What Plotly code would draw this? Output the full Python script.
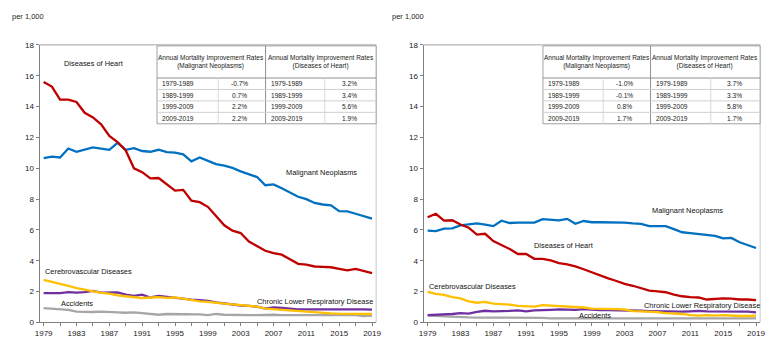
import plotly.graph_objects as go

years = list(range(1979, 2020))

# Left panel
heart_l = [15.6, 15.3, 14.45, 14.45, 14.3, 13.6, 13.3, 12.85, 12.1, 11.7, 11.15, 10.0, 9.75, 9.35, 9.37, 8.95, 8.55, 8.6, 7.9, 7.8, 7.5,
           6.9, 6.3, 5.95, 5.8, 5.25, 4.95, 4.65, 4.5, 4.4, 4.1, 3.8, 3.75, 3.63, 3.6, 3.58, 3.48, 3.38, 3.47, 3.35, 3.2]
cancer_l = [10.65, 10.75, 10.7, 11.28, 11.07, 11.2, 11.35, 11.28, 11.2, 11.65, 11.2, 11.3, 11.12, 11.07, 11.2, 11.05, 11.02, 10.9, 10.45, 10.7, 10.5,
            10.27, 10.17, 10.02, 9.8, 9.6, 9.43, 8.9, 8.95, 8.7, 8.45, 8.15, 8.0, 7.75, 7.65, 7.6, 7.22, 7.2, 7.05, 6.87, 6.73]
cvd_l = [2.76, 2.65, 2.5, 2.38, 2.23, 2.13, 2.02, 1.92, 1.87, 1.75, 1.7, 1.62, 1.58, 1.62, 1.64, 1.6, 1.62, 1.54, 1.45, 1.37, 1.33,
         1.26, 1.22, 1.18, 1.12, 1.07, 1.03, 0.9, 0.86, 0.82, 0.78, 0.74, 0.7, 0.63, 0.61, 0.59, 0.57, 0.57, 0.55, 0.53, 0.55]
clrd_l = [1.9, 1.9, 1.9, 1.97, 1.93, 1.97, 2.05, 1.93, 1.92, 1.95, 1.8, 1.72, 1.8, 1.62, 1.72, 1.65, 1.6, 1.55, 1.48, 1.45, 1.4,
          1.3, 1.22, 1.15, 1.1, 1.07, 1.02, 0.9, 0.97, 0.95, 0.9, 0.85, 0.85, 0.87, 0.85, 0.85, 0.85, 0.87, 0.88, 0.85, 0.83]
acc_l = [0.93, 0.9, 0.87, 0.82, 0.7, 0.68, 0.68, 0.7, 0.66, 0.65, 0.63, 0.66, 0.6, 0.55, 0.5, 0.55, 0.55, 0.55, 0.55, 0.52, 0.48,
         0.55, 0.5, 0.48, 0.5, 0.48, 0.48, 0.5, 0.5, 0.48, 0.48, 0.48, 0.5, 0.48, 0.47, 0.48, 0.47, 0.47, 0.48, 0.42, 0.45]

# Right panel
heart_r = [6.82, 7.05, 6.6, 6.63, 6.35, 6.15, 5.7, 5.75, 5.28, 5.03, 4.76, 4.44, 4.44, 4.13, 4.13, 4.02, 3.85, 3.77, 3.64, 3.45, 3.24,
           3.03, 2.86, 2.69, 2.5, 2.38, 2.23, 2.06, 2.02, 1.96, 1.81, 1.7, 1.64, 1.62, 1.49, 1.52, 1.56, 1.54, 1.49, 1.49, 1.45]
cancer_r = [5.95, 5.92, 6.08, 6.1, 6.3, 6.35, 6.42, 6.35, 6.25, 6.6, 6.45, 6.48, 6.5, 6.48, 6.7, 6.65, 6.62, 6.72, 6.4, 6.58, 6.5,
            6.5, 6.5, 6.52, 6.48, 6.42, 6.4, 6.25, 6.27, 6.25, 6.05, 5.85, 5.8, 5.75, 5.7, 5.62, 5.45, 5.48, 5.2, 5.0, 4.83]
cvd_r = [1.98, 1.85, 1.79, 1.64, 1.56, 1.37, 1.28, 1.33, 1.22, 1.18, 1.16, 1.07, 1.07, 1.03, 1.12, 1.09, 1.07, 1.05, 1.01, 0.97, 0.9,
         0.9, 0.86, 0.86, 0.84, 0.74, 0.72, 0.7, 0.67, 0.61, 0.59, 0.55, 0.48, 0.44, 0.48, 0.44, 0.48, 0.44, 0.42, 0.42, 0.44]
clrd_r = [0.48, 0.5, 0.5, 0.55, 0.61, 0.58, 0.69, 0.76, 0.72, 0.72, 0.75, 0.78, 0.72, 0.78, 0.78, 0.82, 0.85, 0.85, 0.82, 0.87, 0.82,
          0.8, 0.8, 0.8, 0.8, 0.78, 0.76, 0.74, 0.72, 0.74, 0.72, 0.7, 0.72, 0.75, 0.72, 0.72, 0.74, 0.72, 0.72, 0.7, 0.66]
acc_r = [0.45, 0.42, 0.42, 0.38, 0.35, 0.33, 0.32, 0.32, 0.32, 0.32, 0.3, 0.3, 0.3, 0.28, 0.3, 0.26, 0.27, 0.28, 0.28, 0.28, 0.28,
         0.27, 0.26, 0.26, 0.26, 0.25, 0.26, 0.26, 0.26, 0.25, 0.25, 0.25, 0.25, 0.25, 0.25, 0.25, 0.24, 0.24, 0.25, 0.25, 0.26]

# Tables
periods = ["1979-1989", "1989-1999", "1999-2009", "2009-2019"]
cancer_rates_l = ["-0.7%", "0.7%", "2.2%", "2.2%"]
heart_rates_l = ["3.2%", "3.4%", "5.6%", "1.9%"]
cancer_rates_r = ["-1.0%", "-0.1%", "0.8%", "1.7%"]
heart_rates_r = ["3.7%", "3.3%", "5.8%", "1.7%"]
header_cancer = "Annual Mortality Improvement Rates<br>(Malignant Neoplasms)"
header_heart = "Annual Mortality Improvement Rates<br>(Diseases of Heart)"

xtick_vals = list(range(1979, 2020, 2))
xtick_text = [str(y) if (y - 1979) % 4 == 0 else "" for y in xtick_vals]

W, H = 774, 345
FONT = "Liberation Sans, Arial, sans-serif"
TXT = "#222222"

def px(x):
    return x / W

def py(y):
    return 1 - y / H

COL = dict(heart="#C00000", cancer="#0070C0", cvd="#FFC000", clrd="#7030A0", acc="#A6A6A6")

fig = go.Figure()

def add_panel(xa, ya, acc, clrd, cvd, cancer, heart):
    for vals, c in [(acc, COL["acc"]), (clrd, COL["clrd"]), (cvd, COL["cvd"]), (cancer, COL["cancer"]), (heart, COL["heart"])]:
        fig.add_trace(go.Scatter(x=years, y=vals, mode="lines", xaxis=xa, yaxis=ya,
                                 line=dict(color=c, width=2.3), showlegend=False, hoverinfo="skip"))

add_panel("x", "y", acc_l, clrd_l, cvd_l, cancer_l, heart_l)
add_panel("x2", "y2", acc_r, clrd_r, cvd_r, cancer_r, heart_r)

axis_common_x = dict(range=[1978.5, 2019.5], tickvals=xtick_vals, ticktext=xtick_text, ticks="outside", ticklen=3,
                     tickcolor="#808080", showline=True, linecolor="#808080", linewidth=1, mirror=False,
                     showgrid=False, zeroline=False, tickfont=dict(family=FONT, size=8, color=TXT))
axis_common_y = dict(range=[0, 18], dtick=2, ticks="outside", ticklen=3, tickcolor="#808080",
                     showline=True, linecolor="#808080", linewidth=1, showgrid=False, zeroline=False,
                     tickfont=dict(family=FONT, size=8, color=TXT))

ydom = [py(327), py(42)]
fig.update_layout(
    width=W, height=H, margin=dict(l=0, r=0, t=0, b=0),
    paper_bgcolor="white", plot_bgcolor="white",
    xaxis=dict(domain=[px(35), px(376)], anchor="y", **axis_common_x),
    yaxis=dict(domain=ydom, anchor="x", **axis_common_y),
    xaxis2=dict(domain=[px(424), px(765)], anchor="y2", **axis_common_x),
    yaxis2=dict(domain=ydom, anchor="x2", **axis_common_y),
)

shapes = []
annotations = []

# plot frames (top/right light border)
for (l, r) in [(35, 376), (424, 765)]:
    shapes.append(dict(type="line", xref="paper", yref="paper", x0=px(l), x1=px(r), y0=py(42), y1=py(42),
                       line=dict(color="#A0A0A0", width=1)))
    shapes.append(dict(type="line", xref="paper", yref="paper", x0=px(r), x1=px(r), y0=py(42), y1=py(327),
                       line=dict(color="#C8C8C8", width=1)))

def add_table(x0, c1, c2, c3, x1, rates_a, rates_b):
    top, hb, bottom = 43, 76, 123
    rh = (bottom - hb) / 4
    shapes.append(dict(type="rect", xref="paper", yref="paper", x0=px(x0), x1=px(x1), y0=py(top), y1=py(bottom),
                       line=dict(color="#A0A0A0", width=1), fillcolor="white"))
    shapes.append(dict(type="line", xref="paper", yref="paper", x0=px(x0), x1=px(x1), y0=py(hb), y1=py(hb),
                       line=dict(color="#909090", width=1)))
    shapes.append(dict(type="line", xref="paper", yref="paper", x0=px(c2), x1=px(c2), y0=py(top), y1=py(bottom),
                       line=dict(color="#909090", width=1)))
    for cx in (c1, c3):
        shapes.append(dict(type="line", xref="paper", yref="paper", x0=px(cx), x1=px(cx), y0=py(hb), y1=py(bottom),
                           line=dict(color="#D8D8D8", width=1)))
    for i in range(1, 4):
        yy = hb + rh * i
        shapes.append(dict(type="line", xref="paper", yref="paper", x0=px(x0), x1=px(x1), y0=py(yy), y1=py(yy),
                           line=dict(color="#D0D0D0", width=1)))
    for cx, txt in [((x0 + c2) / 2, header_cancer), ((c2 + x1) / 2, header_heart)]:
        annotations.append(dict(xref="paper", yref="paper", x=px(cx), y=py(60), text=txt, showarrow=False,
                                xanchor="center", yanchor="middle", font=dict(family=FONT, size=6.5, color=TXT)))
    for i, p in enumerate(periods):
        yc = hb + rh * (i + 0.5)
        annotations.append(dict(xref="paper", yref="paper", x=px(x0 + 3), y=py(yc), text=p, showarrow=False,
                                xanchor="left", yanchor="middle", font=dict(family=FONT, size=6.6, color=TXT)))
        annotations.append(dict(xref="paper", yref="paper", x=px(c2 + 3), y=py(yc), text=p, showarrow=False,
                                xanchor="left", yanchor="middle", font=dict(family=FONT, size=6.6, color=TXT)))
        annotations.append(dict(xref="paper", yref="paper", x=px((c1 + c2) / 2 - 2), y=py(yc), text=rates_a[i], showarrow=False,
                                xanchor="center", yanchor="middle", font=dict(family=FONT, size=6.6, color=TXT)))
        annotations.append(dict(xref="paper", yref="paper", x=px((c3 + x1) / 2 - 1), y=py(yc), text=rates_b[i], showarrow=False,
                                xanchor="center", yanchor="middle", font=dict(family=FONT, size=6.6, color=TXT)))

add_table(154, 216, 264, 324, 376, cancer_rates_l, heart_rates_l)
add_table(545, 606, 654, 715, 765, cancer_rates_r, heart_rates_r)

labels = [
    ("x", "y", 1985.1, 16.8, "Diseases of Heart"),
    ("x", "y", 2012.9, 9.73, "Malignant Neoplasms"),
    ("x", "y", 1984.5, 3.28, "Cerebrovascular Diseases"),
    ("x", "y", 1983.1, 1.2, "Accidents"),
    ("x", "y", 2012.1, 1.39, "Chronic Lower Respiratory Disease"),
    ("x2", "y2", 2010.6, 7.26, "Malignant Neoplasms"),
    ("x2", "y2", 1995.5, 4.99, "Diseases of Heart"),
    ("x2", "y2", 1984.5, 2.34, "Cerebrovascular Diseases"),
    ("x2", "y2", 2012.4, 1.07, "Chronic Lower Respiratory Disease"),
    ("x2", "y2", 1999.4, 0.44, "Accidents"),
]
for xr, yr, xv, yv, t in labels:
    annotations.append(dict(xref=xr, yref=yr, x=xv, y=yv, text=t, showarrow=False, xanchor="center", yanchor="middle",
                            font=dict(family=FONT, size=7.4, color="#111111")))

for xx in (5, 390):
    annotations.append(dict(xref="paper", yref="paper", x=px(xx), y=py(13), text="per 1,000", showarrow=False,
                            xanchor="left", yanchor="middle", font=dict(family=FONT, size=7.5, color=TXT)))

fig.update_layout(shapes=shapes, annotations=annotations)
fig.write_html("out.html")
